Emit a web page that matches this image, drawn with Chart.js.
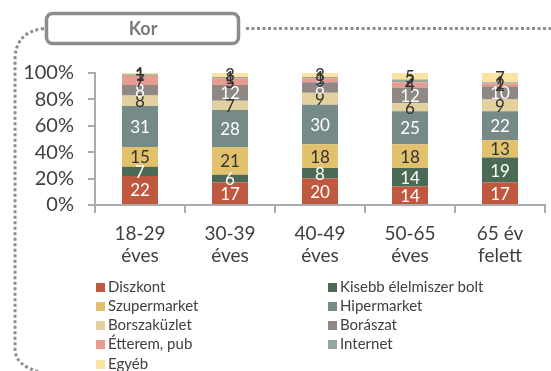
<!DOCTYPE html>
<html>
<head>
<meta charset="utf-8">
<script src="https://cdn.jsdelivr.net/npm/chart.js@4/dist/chart.umd.min.js"></script>
<style>
  html, body { margin: 0; padding: 0; background: #fff; }
  #wrap { position: relative; width: 551px; height: 371px; overflow: hidden; font-family: Lato, "Open Sans", sans-serif; }
  #c { position: absolute; left: 0; top: 0; }
  .item { position: absolute; font-size: 15px; color: #404040; white-space: nowrap; line-height: 18px; }
  .sw { display: inline-block; width: 9px; height: 9px; margin-right: 3px; position: relative; top: 0px; }
</style>
</head>
<body>
<div id="wrap">
  <canvas id="c" width="551" height="371"></canvas>
  <div id="legend"></div>
</div>
<script>
// Age groups (two-line axis labels)
const categories = [["18-29", "éves"], ["30-39", "éves"], ["40-49", "éves"], ["50-65", "éves"], ["65 év", "felett"]];

// Shares (%) by place of purchase
const diszkont     = [22, 17, 20, 14, 17];
const kisebbBolt   = [7, 6, 8, 14, 19];
const szupermarket = [15, 21, 18, 18, 13];
const hipermarket  = [31, 28, 30, 25, 22];
const borszakuzlet = [8, 7, 9, 6, 9];
const boraszat     = [8, 12, 8, 12, 10];
const etterem      = [7, 5, 3, 4, 2];
const internet     = [1, 1, 1, 2, 1];
const egyeb        = [1, 3, 3, 5, 7];

const yTicks = [0, 20, 40, 60, 80, 100];

const seriesNames  = ["Diszkont", "Kisebb élelmiszer bolt", "Szupermarket", "Hipermarket", "Borszaküzlet", "Borászat", "Étterem, pub", "Internet", "Egyéb"];
const seriesValues = [diszkont, kisebbBolt, szupermarket, hipermarket, borszakuzlet, boraszat, etterem, internet, egyeb];
const seriesColors = ["#c0573f", "#4b6a55", "#e1c16b", "#768b88", "#e2d09f", "#8f8884", "#e79c92", "#93a79a", "#fde3a2"];
const labelColors  = ["#ffffff", "#ffffff", "#333333", "#ffffff", "#333333", "#ffffff", "#333333", "#333333", "#333333"];

const FONT = "Lato, 'Open Sans', sans-serif";
const AXIS = "#ababab";

// Value labels centred in every stacked segment
const segmentLabels = {
  id: "segmentLabels",
  afterDatasetsDraw(chart) {
    const ctx = chart.ctx;
    ctx.save();
    ctx.font = "17px " + FONT;
    ctx.textAlign = "center";
    ctx.textBaseline = "middle";
    chart.data.datasets.forEach((ds, i) => {
      const meta = chart.getDatasetMeta(i);
      meta.data.forEach((el, j) => {
        const v = ds.data[j];
        ctx.fillStyle = labelColors[i];
        ctx.fillText(String(v), el.x, (el.y + el.base) / 2 + 1);
      });
    });
    ctx.restore();
  }
};

// Frame: titled box with a dotted outline running off to the right and down the left
const frame = {
  id: "frame",
  beforeDraw(chart) {
    const ctx = chart.ctx;
    ctx.save();
    ctx.strokeStyle = "#8e8e8e";
    ctx.lineWidth = 3;
    ctx.setLineDash([3, 2.5]);
    // top run
    ctx.beginPath();
    ctx.moveTo(246, 28.5);
    ctx.lineTo(551, 28.5);
    ctx.stroke();
    // left run with rounded corners
    ctx.beginPath();
    ctx.moveTo(44, 28.5);
    ctx.quadraticCurveTo(15, 32, 15, 60);
    ctx.lineTo(15, 350);
    ctx.quadraticCurveTo(16, 366, 40, 372);
    ctx.stroke();
    ctx.setLineDash([]);
    // title box
    ctx.lineWidth = 3.5;
    ctx.strokeStyle = "#8c8c8c";
    ctx.fillStyle = "#ffffff";
    ctx.beginPath();
    ctx.roundRect(46.5, 13.5, 192, 30, 6);
    ctx.fill();
    ctx.stroke();
    ctx.fillStyle = "#7a7a7a";
    ctx.font = "bold 18px " + FONT;
    ctx.textAlign = "center";
    ctx.textBaseline = "middle";
    ctx.fillText("Kor", 143, 29);
    ctx.restore();
  }
};

const chart = new Chart(document.getElementById("c"), {
  type: "bar",
  data: {
    labels: categories,
    datasets: seriesNames.map((name, i) => ({
      label: name,
      data: seriesValues[i],
      backgroundColor: seriesColors[i],
      borderWidth: 0,
      barPercentage: 0.4,
      categoryPercentage: 1.0
    }))
  },
  options: {
    responsive: false,
    animation: false,
    events: [],
    layout: { padding: { top: 73, right: 6, bottom: 96, left: 0 } },
    plugins: { legend: { display: false }, tooltip: { enabled: false } },
    scales: {
      x: {
        stacked: true,
        afterFit(scale) { scale.height = 70; },
        grid: { display: true, drawOnChartArea: false, drawTicks: true, tickLength: 8, color: AXIS, lineWidth: 2, offset: true },
        border: { display: true, color: AXIS, width: 2 },
        ticks: { color: "#404040", font: { family: FONT, size: 19 }, padding: 9, maxRotation: 0, autoSkip: false }
      },
      y: {
        stacked: true,
        min: 0,
        max: 100,
        afterFit(scale) { scale.width = 95; },
        afterBuildTicks(scale) { scale.ticks = yTicks.map(v => ({ value: v })); },
        grid: { display: true, drawOnChartArea: false, drawTicks: true, tickLength: 7, color: AXIS, lineWidth: 2 },
        border: { display: true, color: AXIS, width: 2 },
        ticks: { color: "#404040", font: { family: FONT, size: 20 }, padding: 14, autoSkip: false, callback: v => v + "%" }
      }
    }
  },
  plugins: [frame, segmentLabels]
});

// Two-column legend built from the series
const legend = document.getElementById("legend");
const colX = [96, 328];
const rowY = [286, 305, 324, 343, 363];
seriesNames.forEach((name, i) => {
  const d = document.createElement("div");
  d.className = "item";
  d.style.left = colX[i % 2] + "px";
  d.style.top = (rowY[Math.floor(i / 2)] - 9) + "px";
  const sw = document.createElement("span");
  sw.className = "sw";
  sw.style.background = seriesColors[i];
  d.appendChild(sw);
  d.appendChild(document.createTextNode(name));
  legend.appendChild(d);
});
</script>
</body>
</html>
